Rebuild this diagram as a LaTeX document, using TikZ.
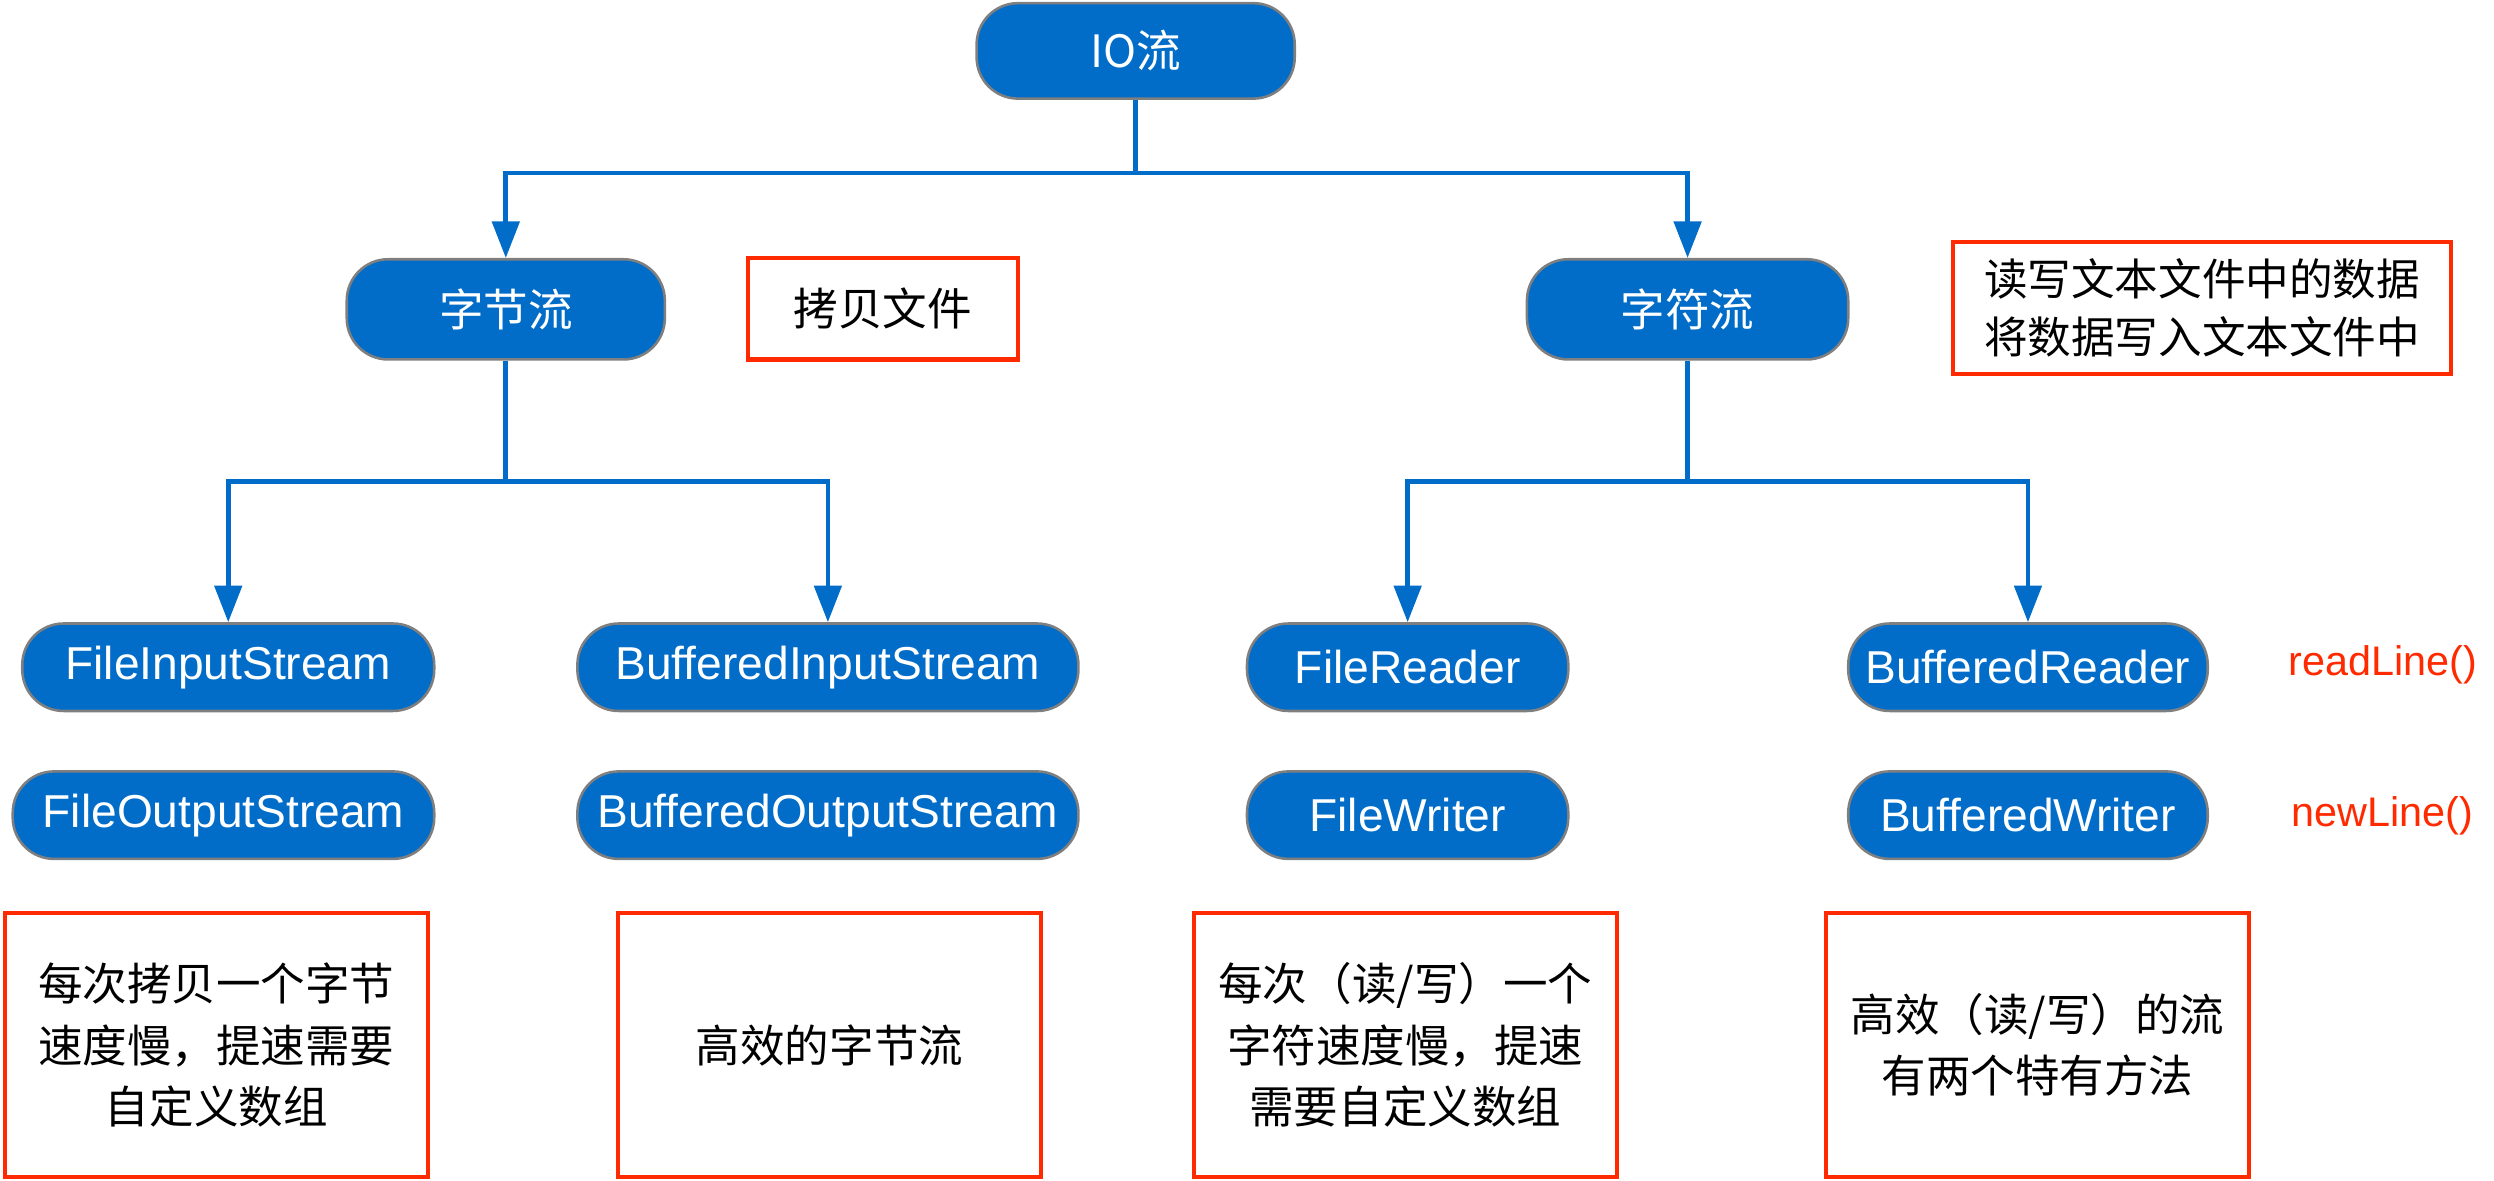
\documentclass[tikz,border=0pt]{standalone}
\usepackage{fontspec}
\setmainfont{Liberation Sans}
\newfontfamily\cjk{Noto Sans CJK SC}
\usetikzlibrary{positioning,arrows.meta}
\definecolor{ioblue}{HTML}{016DC9}
\definecolor{rim}{HTML}{7F7F7F}
\definecolor{noteRed}{HTML}{FF2A00}

\begin{document}
\begin{tikzpicture}[x=0.5pt,y=-0.5pt,>={Triangle[length=11.5pt,width=8.5pt]},
  blk/.style={draw=rim,line width=0.8pt,fill=ioblue,text=white,rounded corners=13pt,minimum height=27.5pt,inner sep=0pt,font=\fontsize{14.5}{17}\selectfont},
  zh/.style={font=\cjk\fontsize{14}{17}\selectfont},
  note/.style={draw=noteRed,line width=1.3pt,inner sep=0pt,align=center,font=\cjk\fontsize{14}{19.3}\selectfont},
  tip/.style={text=noteRed,font=\fontsize{13}{16}\selectfont},
  lnk/.style={->,draw=ioblue,line width=1.5pt}]
\useasboundingbox (0,0) rectangle (1568,742);
% top levels
\node[blk,zh,minimum width=100pt,minimum height=30pt](io) at (714,32){IO流};
\node[blk,zh,minimum width=100pt,minimum height=31.5pt](byte) at (318,194.5){字节流};
\node[blk,zh,minimum width=101pt,minimum height=31.5pt](char) at (1061,194.5){字符流};
\node[note,minimum width=85pt,minimum height=32pt](copy) at (555,194){拷贝文件};
\node[note,minimum width=156.5pt,minimum height=41.5pt,font=\cjk\fontsize{13.7}{18}\selectfont](rw) at (1384.5,193.5){读写文本文件中的数据\\将数据写入文本文件中};
% stream classes
\node[blk,minimum width=129.5pt](fis) at (143.5,419.5){FileInputStream};
\node[blk,minimum width=132.5pt](fos) at (140.5,512.5){FileOutputStream};
\node[blk,minimum width=157.5pt](bis) at (520.5,419.5){BufferedInputStream};
\node[blk,minimum width=157.5pt](bos) at (520.5,512.5){BufferedOutputStream};
\node[blk,minimum width=101pt](fr) at (885,419.5){FileReader};
\node[blk,minimum width=101pt](fw) at (885,512.5){FileWriter};
\node[blk,minimum width=113pt](br) at (1275,419.5){BufferedReader};
\node[blk,minimum width=113pt](bw) at (1275,512.5){BufferedWriter};
\node[tip](rl) at (1498,418){readLine()};
\node[tip](nl) at (1498,513){newLine()};
% notes
\node[note,minimum width=133pt,minimum height=83pt](n1) at (136,657){每次拷贝一个字节\\速度慢，提速需要\\自定义数组};
\node[note,minimum width=133pt,minimum height=83pt](n2) at (521.5,657){高效的字节流};
\node[note,minimum width=133pt,minimum height=83pt](n3) at (883.5,657){每次（读/写）一个\\字符速度慢，提速\\需要自定义数组};
\node[note,minimum width=133pt,minimum height=83pt](n4) at (1281,657){高效（读/写）的流\\有两个特有方法};
% links
\draw[lnk](io.south)--++(0,46)-|(byte.north);
\draw[lnk](io.south)--++(0,46)-|(char.north);
\draw[lnk](byte.south)--++(0,76)-|(fis.north);
\draw[lnk](byte.south)--++(0,76)-|(bis.north);
\draw[lnk](char.south)--++(0,76)-|(fr.north);
\draw[lnk](char.south)--++(0,76)-|(br.north);
\end{tikzpicture}
\end{document}
